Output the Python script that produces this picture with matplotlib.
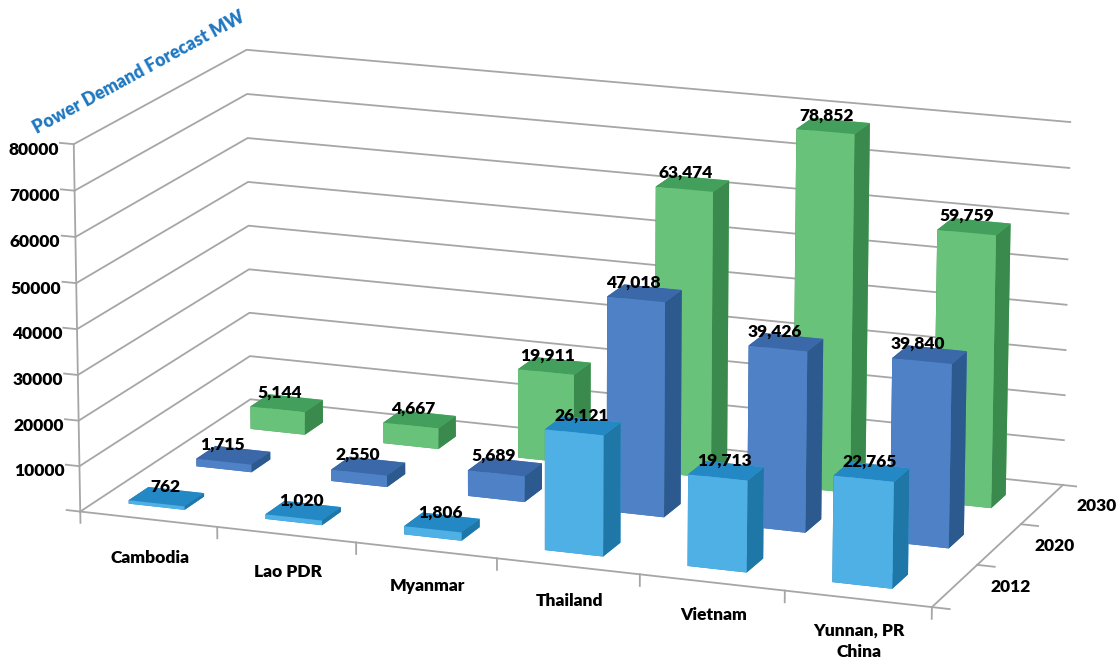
import numpy as np
import matplotlib
matplotlib.use("Agg")
import matplotlib.pyplot as plt

plt.rcParams["font.family"] = ["Lato", "DejaVu Sans"]
BOLD = 800

CATEGORIES = ["Cambodia", "Lao PDR", "Myanmar", "Thailand", "Vietnam", "Yunnan, PR\nChina"]
YEARS = ["2012", "2020", "2030"]
VALUES_2012 = [762, 1020, 1806, 26121, 19713, 22765]
VALUES_2020 = [1715, 2550, 5689, 47018, 39426, 39840]
VALUES_2030 = [5144, 4667, 19911, 63474, 78852, 59759]
Z_TICKS = [10000, 20000, 30000, 40000, 50000, 60000, 70000, 80000]

FRONT = ["#4FB0E6", "#4F81C7", "#69C279"]
SIDE = ["#1F77A8", "#2C5A8E", "#3A8A4E"]
TOP = ["#2488C4", "#3A68A8", "#43A05C"]
GRID = "#A6A6A6"

W, H = 1119, 664
BAR_W, BAR_D = 0.41, 0.34
ROW_SHIFT = [-0.065, 0.01, 0.0]   # front row sits a little left in the original
LABEL_SHIFT = [0.02, -0.05, -0.02]

fig = plt.figure(figsize=(W / 100, H / 100), dpi=100)
S, CX, CY = 1032.75, 561.06, 333.16   # camera below was fitted to the box corners
ax = fig.add_axes([(CX - S / 2) / W, (CY - S / 2) / H, S / W, S / H], projection="3d")
ax.set_xlim(0, 6)
ax.set_ylim(0, 3)
ax.set_zlim(0, 80000)
ax.view_init(elev=15.308, azim=-69.583, roll=-0.078)
ax.set_proj_type("persp", focal_length=1.2838)
ax.set_box_aspect((1, 0.4886, 0.4238))
ax.set_axis_off()
ax.patch.set_visible(False)
ax.computed_zorder = False

M = ax.get_proj()


def label(x, y, z, s, **kw):
    # place text at a projected 3D point, as a plain 2D text
    h = M @ np.array([x, y, z, 1.0])
    return ax.text2D(h[0] / h[3], h[1] / h[3], s, transform=ax.transData, fontweight=BOLD, **kw)


def line(xs, ys, zs):
    ax.plot(xs, ys, zs, color=GRID, lw=1.3, zorder=1)


# walls, floor edges, ticks
for z in [0] + Z_TICKS:
    line([0, 0, 6], [0, 3, 3], [z, z, z])
    line([-0.1, 0], [0, 0], [z, z])
    if z:
        label(-0.11, 0, z - 1500, str(z), ha="right", va="center", fontsize=12.5, zorder=5)
line([0, 0], [0, 0], [0, 80000])
line([0, 6, 6], [0, 0, 3], [0, 0, 0])
for i in range(7):
    line([i, i], [0, 0], [0, -2500])
for j in range(4):
    line([6, 6.12], [j, j], [0, 0])

for i, name in enumerate(CATEGORIES):
    label(i + 0.51, 0, -6800 + 370 * i, name, ha="center", va="top", fontsize=12.5, linespacing=1.45, zorder=5)
for j, name in enumerate(YEARS):
    label(6.38, j + 0.5, 1000, name, ha="center", va="center", fontsize=12.5, zorder=5)

rows = [VALUES_2012, VALUES_2020, VALUES_2030]
for j in [2, 1, 0]:
    for i, val in enumerate(rows[j]):
        x0 = i + (1 - BAR_W) / 2 + ROW_SHIFT[j]
        y0 = j + 0.29
        cols = [TOP[j], TOP[j], FRONT[j], FRONT[j], SIDE[j], SIDE[j]]
        ax.bar3d(x0, y0, 0, BAR_W, BAR_D, val, color=cols, shade=False, zorder=2)

for j in [2, 1, 0]:
    for i, val in enumerate(rows[j]):
        x0 = i + (1 - BAR_W) / 2 + ROW_SHIFT[j]
        label(x0 + BAR_W / 2 - 0.03 + LABEL_SHIFT[j], j + 0.29 + BAR_D / 2, val + 400, f"{val:,}",
              ha="center", va="bottom", fontsize=12.5, zorder=6)

fig.text(139 / W, 1 - 72 / H, "Power Demand Forecast MW", rotation=28.5, ha="center", va="center",
         color="#1F77C0", fontsize=12.8, fontweight=BOLD)

fig.savefig("out.png", dpi=100)
